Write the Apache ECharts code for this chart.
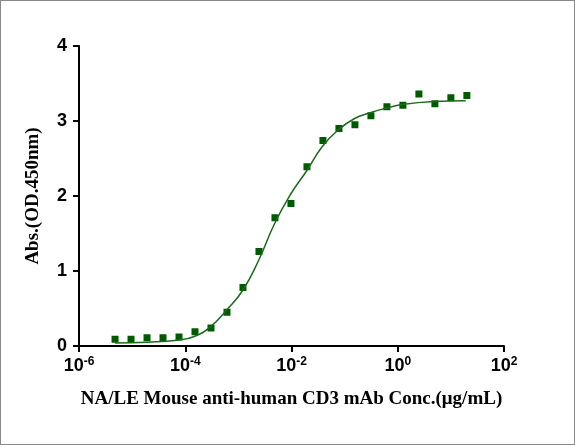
<!DOCTYPE html>
<html><head><meta charset="utf-8">
<script src="https://cdn.jsdelivr.net/npm/echarts@6/dist/echarts.min.js"></script>
<style>html,body{margin:0;padding:0;background:#fff}#c{width:573px;height:443px;border:1px solid #888}</style>
</head><body><div id="c"></div>
<script>
// log10 of concentration (ug/mL), 2-fold dilution from 20
var logConc = [];
for (var i = 0; i < 23; i++) logConc.push(Math.log10(20 / Math.pow(2, 22 - i)));
var absValues = [0.09,0.09,0.11,0.11,0.12,0.19,0.24,0.45,0.78,1.26,1.71,1.90,2.39,2.74,2.90,2.95,3.07,3.19,3.21,3.36,3.23,3.31,3.34];
// fitted curve (log10 x, y)
var curveX = [-5.32,-4.72,-4.12,-3.82,-3.52,-3.22,-2.92,-2.62,-2.32,-2.02,-1.72,-1.42,-1.12,-0.82,-0.52,-0.22,0.08,0.68,1.28];
var curveY = [0.04,0.05,0.08,0.13,0.26,0.48,0.74,1.14,1.63,2.02,2.33,2.66,2.88,3.03,3.11,3.17,3.22,3.26,3.27];

var chart = echarts.init(document.getElementById('c'));
var f = 'Liberation Serif';
chart.setOption({
  animation: false,
  grid: {left: 78, right: 70, top: 45, bottom: 98},
  xAxis: {
    type: 'value', min: -6, max: 2, interval: 2,
    axisLine: {onZero: false, lineStyle: {color: '#000', width: 2}},
    axisTick: {length: 6, lineStyle: {color: '#000', width: 2}},
    splitLine: {show: false},
    axisLabel: {
      margin: 10,
      formatter: function (v) { return '{b|10}{s|' + v + '}'; },
      rich: {
        b: {fontFamily: 'Arial', fontWeight: 'bold', fontSize: 18, color: '#000'},
        s: {fontFamily: 'Arial', fontWeight: 'bold', fontSize: 12, color: '#000', verticalAlign: 'top', padding: [0, 0, 8, 0]}
      }
    },
    name: 'NA/LE Mouse anti-human CD3 mAb Conc.(μg/mL)',
    nameLocation: 'middle', nameGap: 44,
    nameTextStyle: {fontFamily: f, fontWeight: 'bold', fontSize: 19, color: '#000'}
  },
  yAxis: {
    type: 'value', min: 0, max: 4, interval: 1,
    axisLine: {onZero: false, lineStyle: {color: '#000', width: 2}},
    axisTick: {show: true, length: 6, lineStyle: {color: '#000', width: 2}},
    splitLine: {show: false},
    axisLabel: {fontFamily: 'Arial', fontWeight: 'bold', fontSize: 18, color: '#000', margin: 12},
    name: 'Abs.(OD.450nm)', nameLocation: 'middle', nameGap: 36,
    nameTextStyle: {fontFamily: f, fontWeight: 'bold', fontSize: 19, color: '#000'}
  },
  series: [{
    type: 'line', smooth: true, symbol: 'none',
    lineStyle: {color: '#1a6b1a', width: 1.5},
    data: curveX.map(function (x, i) { return [x, curveY[i]]; })
  }, {
    type: 'scatter', symbol: 'rect', symbolSize: 7,
    itemStyle: {color: '#005a00', opacity: 1},
    data: logConc.map(function (x, i) { return [x, absValues[i]]; })
  }]
});
</script></body></html>
